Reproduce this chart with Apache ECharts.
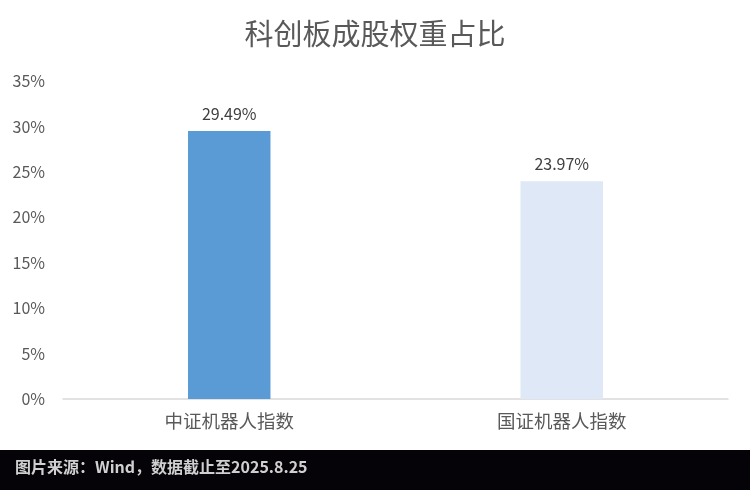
<!DOCTYPE html>
<html>
<head>
<meta charset="utf-8">
<script src="https://cdn.jsdelivr.net/npm/echarts@6/dist/echarts.min.js"></script>
<style>
  html, body { margin: 0; padding: 0; background: #fff; }
  #chart { width: 750px; height: 490px; }
</style>
</head>
<body>
<div id="chart"></div>
<script>
// 数据
var categories = ['中证机器人指数', '国证机器人指数'];
var weights = [29.49, 23.97];
var barColors = ['#5b9bd5', '#dee8f6'];

var chart = echarts.init(document.getElementById('chart'));
var font = '"Noto Sans CJK SC", "Microsoft YaHei", sans-serif';

var option = {
    backgroundColor: '#fff',
    title: {
        text: '科创板成股权重占比',
        left: 'center',
        top: 14,
        textStyle: {
            fontFamily: font,
            fontSize: 29,
            fontWeight: 'normal',
            color: '#595959'
        }
    },
    grid: {
        left: 63,
        right: 22,
        top: 81,
        bottom: 91,
        containLabel: false
    },
    xAxis: {
        type: 'category',
        data: categories,
        axisLine: { lineStyle: { color: '#d9d9d9', width: 1.5 } },
        axisTick: { show: false },
        axisLabel: {
            margin: 13,
            fontFamily: font,
            fontSize: 18.5,
            color: '#595959'
        }
    },
    yAxis: {
        type: 'value',
        min: 0,
        max: 35,
        interval: 5,
        splitLine: { show: false },
        axisLine: { show: false },
        axisTick: { show: false },
        axisLabel: {
            margin: 18,
            fontFamily: font,
            fontSize: 16,
            color: '#595959',
            formatter: '{value}%'
        }
    },
    series: [{
        type: 'bar',
        barWidth: '24.8%',
        data: weights.map(function (v, i) {
            return { value: v, itemStyle: { color: barColors[i] } };
        }),
        label: {
            show: true,
            position: 'top',
            distance: 9,
            fontFamily: font,
            fontSize: 16,
            color: '#404040',
            formatter: function (p) {
                return p.value.toFixed(2) + '%';
            }
        }
    }],
    graphic: [{
        type: 'rect',
        left: 0,
        top: 450,
        shape: { width: 750, height: 40 },
        style: { fill: '#050308' }
    }, {
        type: 'text',
        left: 15,
        top: 459,
        style: {
            text: '图片来源：Wind，数据截止至2025.8.25',
            fontFamily: font,
            fontSize: 16,
            fontWeight: 'bold',
            fill: '#d0d0d0'
        }
    }]
};

chart.setOption(option);
</script>
</body>
</html>
